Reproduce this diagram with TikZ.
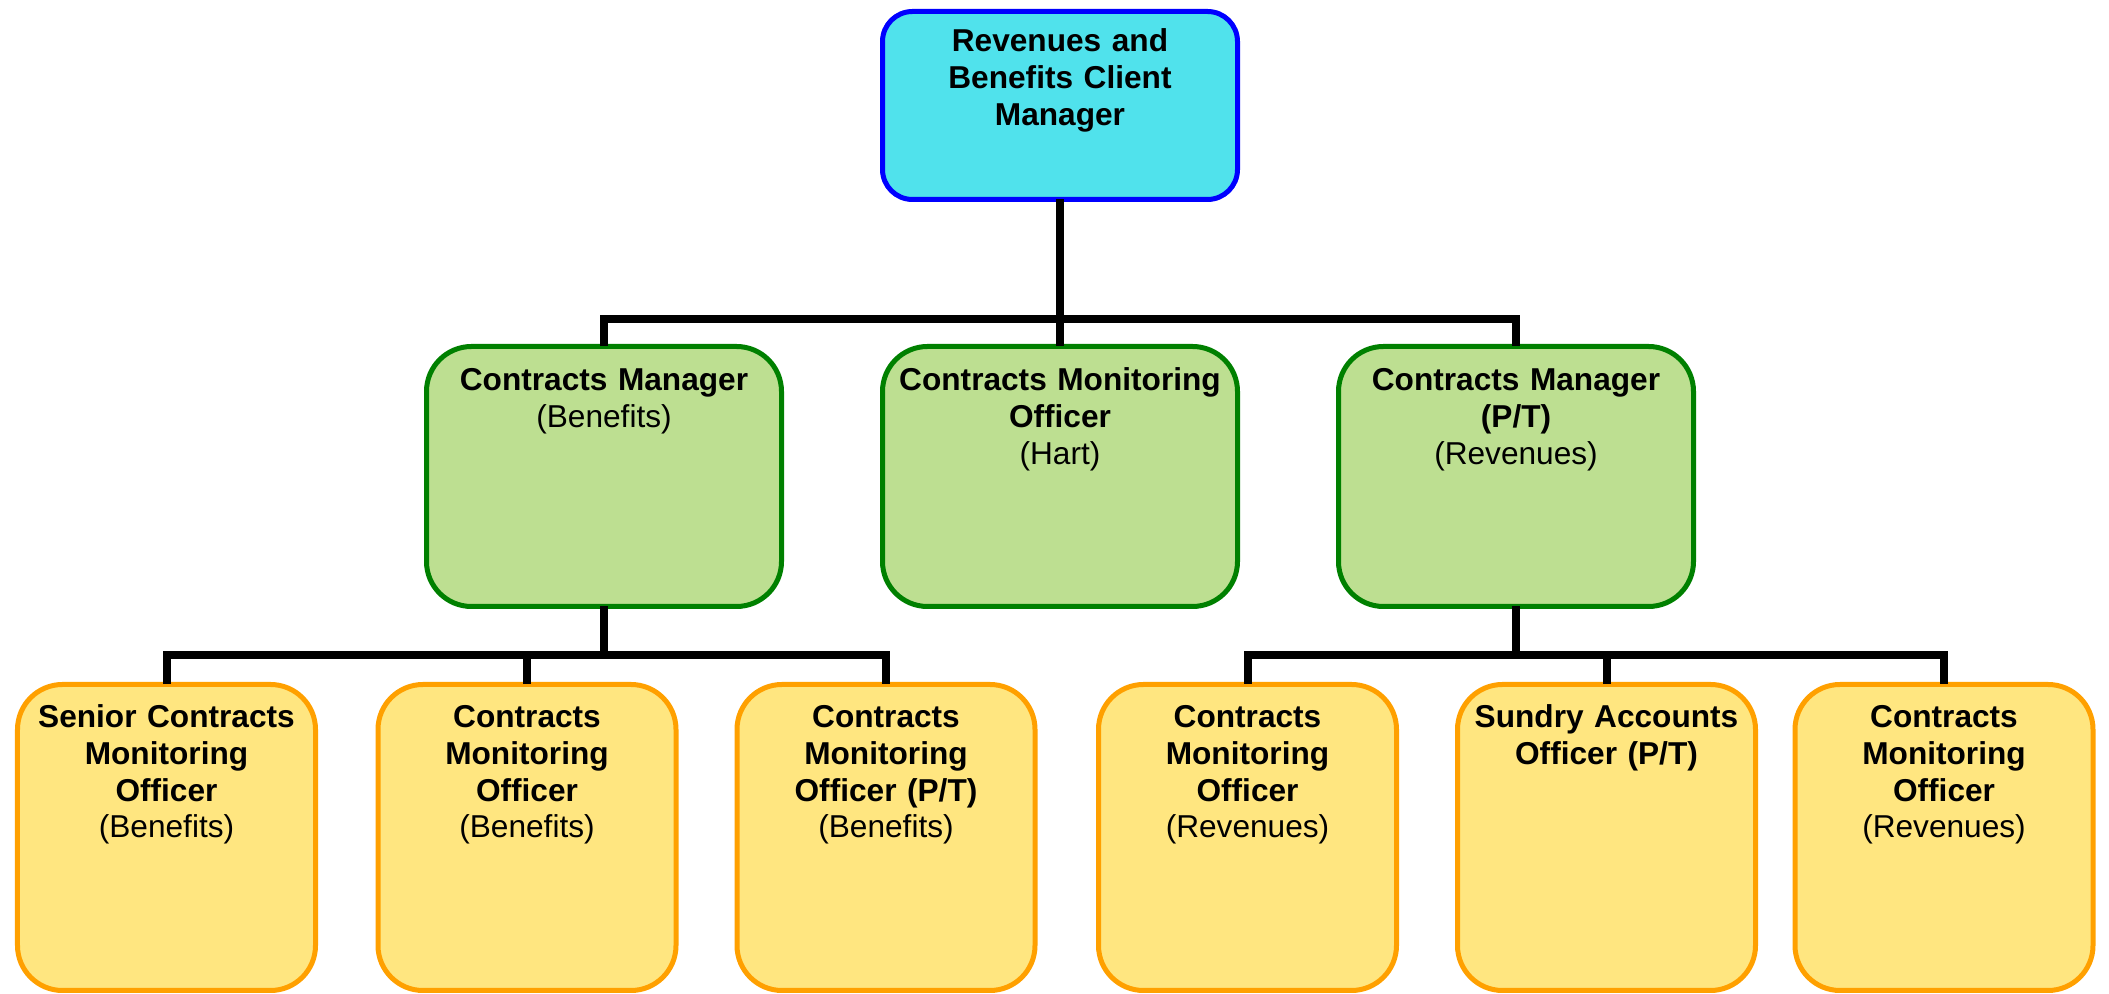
\documentclass[tikz,border=0pt]{standalone}
\usepackage{fontspec}
\setmainfont{Liberation Sans}
\usetikzlibrary{positioning}

\definecolor{clientfill}{RGB}{80,226,236}
\definecolor{clientline}{RGB}{0,0,255}
\definecolor{managerfill}{RGB}{189,223,145}
\definecolor{managerline}{RGB}{0,128,0}
\definecolor{officerfill}{RGB}{255,230,128}
\definecolor{officerline}{RGB}{255,160,0}

\begin{document}
\begin{tikzpicture}[font=\fontsize{9}{10.4}\selectfont\bfseries,
    base node/.style={draw,line width=0.05cm,align=center,outer sep=0pt,inner xsep=0.1cm,inner ysep=0.1cm},
    client node/.style={base node,rounded corners=0.3cm,draw=clientline,fill=clientfill,
        text width=3.35cm,text height=0.305cm,text depth=1.375cm},
    manager node/.style={base node,rounded corners=0.45cm,draw=managerline,fill=managerfill,
        text width=3.35cm,text height=0.345cm,text depth=2.055cm},
    officer node/.style={base node,rounded corners=0.45cm,draw=officerline,fill=officerfill,
        text width=2.78cm,text height=0.335cm,text depth=2.525cm},
    link/.style={draw=black,line width=0.08cm}]

\useasboundingbox (0,0) rectangle (21.09,-9.94);

% top
\node[client node]   (client)  at (10.6,-1.055)          {Revenues and\\Benefits Client\\Manager};

% middle row
\node[manager node]  (cmoHart) [below=1.47cm of client]  {Contracts Monitoring\\Officer\\{\mdseries (Hart)}};
\node[manager node]  (cmBen)   [left=1.01cm of cmoHart]  {Contracts Manager\\{\mdseries (Benefits)}};
\node[manager node]  (cmRev)   [right=1.01cm of cmoHart] {Contracts Manager\\(P/T)\\{\mdseries (Revenues)}};

% bottom row
\node[officer node]  (scmoBen)  at (1.665,-8.375)          {Senior Contracts\\Monitoring\\Officer\\{\mdseries (Benefits)}};
\node[officer node]  (cmoBen)   [right=0.625cm of scmoBen] {Contracts\\Monitoring\\Officer\\{\mdseries (Benefits)}};
\node[officer node]  (cmoptBen) [right=0.61cm of cmoBen]   {Contracts\\Monitoring\\Officer (P/T)\\{\mdseries (Benefits)}};
\node[officer node]  (cmoRevA)  [right=0.635cm of cmoptBen]{Contracts\\Monitoring\\Officer\\{\mdseries (Revenues)}};
\node[officer node]  (sao)      [right=0.61cm of cmoRevA]  {Sundry Accounts\\Officer (P/T)};
\node[officer node]  (cmoRevB)  [right=0.395cm of sao]     {Contracts\\Monitoring\\Officer\\{\mdseries (Revenues)}};

% bus lines
\coordinate[above=0.275cm of cmoHart.north] (bus1);
\coordinate[below=0.485cm of cmBen.south]   (bus2);
\coordinate[below=0.485cm of cmRev.south]   (bus3);

\draw[link] (client.south) -- (bus1);
\foreach \n in {cmBen,cmoHart,cmRev}
    \draw[link] (bus1) -| (\n.north);
\draw[link] (cmBen.south) -- (bus2);
\foreach \n in {scmoBen,cmoBen,cmoptBen}
    \draw[link] (bus2) -| (\n.north);
\draw[link] (cmRev.south) -- (bus3);
\foreach \n in {cmoRevA,sao,cmoRevB}
    \draw[link] (bus3) -| (\n.north);
\end{tikzpicture}
\end{document}
